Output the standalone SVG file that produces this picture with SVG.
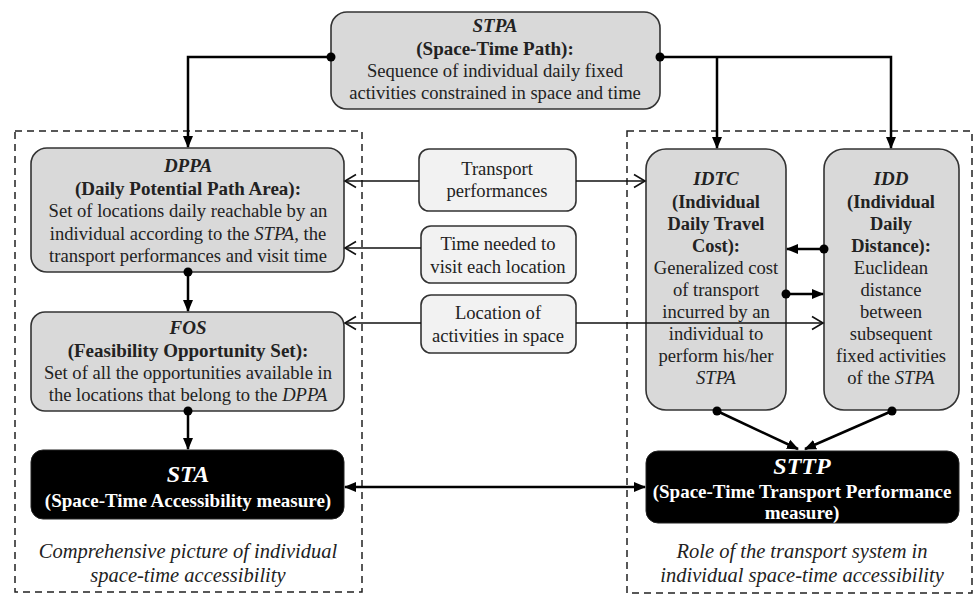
<svg xmlns="http://www.w3.org/2000/svg" width="974" height="594" viewBox="0 0 974 594">
<style>
text{font-family:"Liberation Serif","Times New Roman",serif;font-size:18.6px;fill:#222;text-anchor:middle}
.b{font-weight:bold;font-size:19px}
.i{font-style:italic}
.bi{font-weight:bold;font-style:italic;font-size:19px}
.cap{font-style:italic;font-size:20.5px}
.w{fill:#fff}
.box{fill:#d9d9d9;stroke:#333;stroke-width:1.6}
.lbox{fill:#f2f2f2;stroke:#333;stroke-width:1.6}
.blk{fill:#000;stroke:#222;stroke-width:1}
.dash{fill:none;stroke:#222;stroke-width:1.5;stroke-dasharray:7,5}
.thick{fill:none;stroke:#000;stroke-width:2.5}
.thin{fill:none;stroke:#111;stroke-width:1.6}
</style>
<defs>
<marker id="af" markerUnits="userSpaceOnUse" markerWidth="12" markerHeight="12" viewBox="0 0 12 12" refX="11" refY="6" orient="auto-start-reverse">
<path d="M0,1 L12,6 L0,11 Z" fill="#000"/>
</marker>
<marker id="ao" markerUnits="userSpaceOnUse" markerWidth="14" markerHeight="16" viewBox="0 0 14 16" refX="12" refY="8" orient="auto">
<path d="M1,1.5 L12,8 L1,14.5" fill="none" stroke="#111" stroke-width="1.6"/>
</marker>
</defs>
<rect width="974" height="594" fill="#fff"/>
<g id="groups">
<rect class="dash" x="15" y="131" width="347" height="461"/>
<rect class="dash" x="627" y="131" width="345" height="462"/>
</g>
<g id="STPA">
<rect class="box" x="331" y="12" width="329" height="97" rx="16"/>
<text class="bi" x="495" y="32">STPA</text>
<text class="b" x="495" y="55">(Space-Time Path):</text>
<text x="495" y="77">Sequence of individual daily  fixed</text>
<text x="495" y="99">activities constrained in space and time</text>
</g>
<g id="DPPA">
<rect class="box" x="31" y="148" width="313" height="124" rx="16"/>
<text class="bi" x="188" y="172">DPPA</text>
<text class="b" x="188" y="195">(Daily Potential Path Area):</text>
<text x="188" y="217">Set of locations daily reachable by an</text>
<text x="188" y="240">individual according to the <tspan class="i">STPA</tspan>, the</text>
<text x="188" y="262">transport performances and visit time</text>
</g>
<g id="FOS">
<rect class="box" x="31" y="312" width="313" height="99" rx="14"/>
<text class="bi" x="188" y="334">FOS</text>
<text class="b" x="188" y="357">(Feasibility  Opportunity Set):</text>
<text x="188" y="379">Set of all the opportunities available in</text>
<text x="188" y="401">the locations that belong to the <tspan class="i">DPPA</tspan></text>
</g>
<g id="STA">
<rect class="blk" x="31" y="450" width="313" height="69" rx="12"/>
<text class="bi w" x="188" y="482" style="font-size:24px">STA</text>
<text class="b w" x="188" y="507">(Space-Time Accessibility  measure)</text>
</g>
<g id="caption-left">
<text class="cap" x="188" y="558">Comprehensive picture of individual</text>
<text class="cap" x="188" y="582">space-time accessibility</text>
</g>
<g id="TP">
<rect class="lbox" x="419" y="149" width="157" height="62" rx="10"/>
<text x="497" y="175">Transport</text>
<text x="497" y="197">performances</text>
</g>
<g id="TN">
<rect class="lbox" x="421" y="226" width="155" height="57" rx="10"/>
<text x="498" y="250">Time needed to</text>
<text x="498" y="273">visit each location</text>
</g>
<g id="LA">
<rect class="lbox" x="421" y="295" width="155" height="58" rx="10"/>
<text x="498" y="319">Location of</text>
<text x="498" y="342">activities in space</text>
</g>
<g id="IDTC">
<rect class="box" x="646" y="149" width="140" height="261" rx="20"/>
<text class="bi" x="716" y="185">IDTC</text>
<text class="b" x="716" y="208" style="font-size:18.4px">(Individual</text>
<text class="b" x="716" y="230" style="font-size:18.4px">Daily  Travel</text>
<text class="b" x="716" y="252" style="font-size:18.4px">Cost):</text>
<text x="716" y="274">Generalized  cost</text>
<text x="716" y="296">of transport</text>
<text x="716" y="318">incurred by an</text>
<text x="716" y="340">individual to</text>
<text x="716" y="362">perform his/her</text>
<text class="i" x="716" y="384">STPA</text>
</g>
<g id="IDD">
<rect class="box" x="824" y="149" width="135" height="261" rx="20"/>
<text class="bi" x="891" y="185">IDD</text>
<text class="b" x="891" y="208" style="font-size:18.4px">(Individual</text>
<text class="b" x="891" y="230" style="font-size:18.4px">Daily</text>
<text class="b" x="891" y="252" style="font-size:18.4px">Distance):</text>
<text x="891" y="274">Euclidean</text>
<text x="891" y="296">distance</text>
<text x="891" y="318">between</text>
<text x="891" y="340">subsequent</text>
<text x="891" y="362">fixed activities</text>
<text x="891" y="384">of the <tspan class="i">STPA</tspan></text>
</g>
<g id="STTP">
<rect class="blk" x="646" y="451" width="313" height="72" rx="12"/>
<text class="bi w" x="802" y="474" style="font-size:24px">STTP</text>
<text class="b w" x="802" y="498">(Space-Time Transport Performance</text>
<text class="b w" x="802" y="519">measure)</text>
</g>
<g id="caption-right">
<text class="cap" x="802" y="558">Role of the transport system in</text>
<text class="cap" x="802" y="582">individual space-time accessibility</text>
</g>
<g id="connectors">
<path class="thick" d="M331,57 H188 V147" marker-end="url(#af)"/>
<path class="thick" d="M660,57 H891 V148" marker-end="url(#af)"/>
<path class="thick" d="M717,57 V148" marker-end="url(#af)"/>
<path class="thick" d="M188,272 V311" marker-end="url(#af)"/>
<path class="thick" d="M188,411 V449" marker-end="url(#af)"/>
<path class="thick" d="M824,249 H787" marker-end="url(#af)"/>
<path class="thick" d="M786,294 H823" marker-end="url(#af)"/>
<path class="thick" d="M717,411 L798,449" marker-end="url(#af)"/>
<path class="thick" d="M892,411 L805,449" marker-end="url(#af)"/>
<path class="thick" d="M345,487 H645" marker-start="url(#af)" marker-end="url(#af)"/>
<path class="thin" d="M419,181 H345" marker-end="url(#ao)"/>
<path class="thin" d="M576,181 H645" marker-end="url(#ao)"/>
<path class="thin" d="M421,248 H345" marker-end="url(#ao)"/>
<path class="thin" d="M421,323 H345" marker-end="url(#ao)"/>
<path class="thin" d="M576,323 H823" marker-end="url(#ao)"/>
<g fill="#000">
<circle cx="331" cy="57" r="4.5"/>
<circle cx="660" cy="57" r="4.5"/>
<circle cx="188" cy="272" r="4.5"/>
<circle cx="188" cy="411" r="4.5"/>
<circle cx="824" cy="249" r="4.5"/>
<circle cx="786" cy="294" r="4.5"/>
<circle cx="717" cy="411" r="4.5"/>
<circle cx="892" cy="411" r="4.5"/>
</g>
</g>
</svg>
